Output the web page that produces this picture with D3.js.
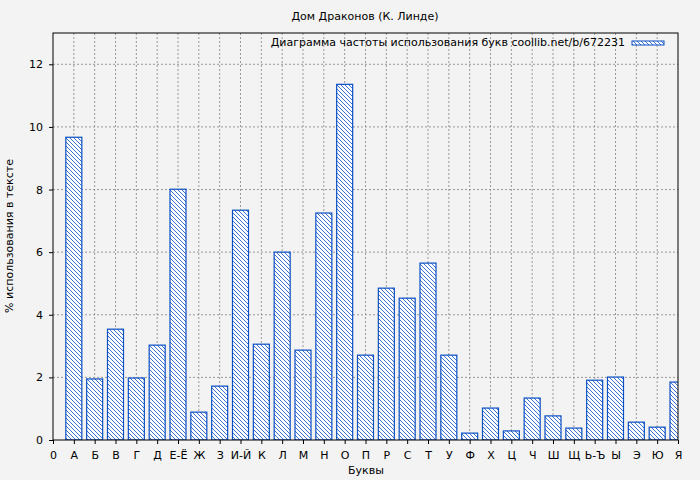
<!DOCTYPE html>
<html><head><meta charset="utf-8">
<script src="https://cdn.jsdelivr.net/npm/d3@7"></script>
<style>body{margin:0;background:#f3f3f3}text{font-family:"DejaVu Sans",sans-serif}</style>
</head><body><svg id="c" width="700" height="480"></svg>
<script>
var letters = ["А","Б","В","Г","Д","Е-Ё","Ж","З","И-Й","К","Л","М","Н","О","П","Р","С","Т","У","Ф","Х","Ц","Ч","Ш","Щ","Ь-Ъ","Ы","Э","Ю","Я"];
var values = [9.67,1.95,3.54,1.98,3.03,8.01,0.89,1.72,7.34,3.06,6.0,2.87,7.25,11.36,2.71,4.85,4.53,5.65,2.71,0.22,1.02,0.29,1.34,0.77,0.38,1.91,2.01,0.57,0.41,1.85];
var yTicks = [0,2,4,6,8,10,12];

var svg = d3.select("#c");
var L = 53, R = 678, T = 33, B = 440, blue = "#0a4fc4";
var x = d3.scaleLinear().domain([0, 30]).range([L, R]);
var y = d3.scaleLinear().domain([0, 13]).range([B, T]);

svg.append("rect").attr("width",700).attr("height",480).attr("fill","#f3f3f3");
var defs = svg.append("defs");
var pat = defs.append("pattern").attr("id","hatch").attr("patternUnits","userSpaceOnUse")
  .attr("width",4).attr("height",4);
pat.append("rect").attr("width",4).attr("height",4).attr("fill","#ffffff");
pat.append("path").attr("d","M-1,-1 L5,5 M-1,3 L1,5 M3,-1 L5,1").attr("stroke",blue).attr("stroke-width",0.8);
defs.append("clipPath").attr("id","clip").append("rect").attr("x",L).attr("y",T).attr("width",R-L).attr("height",B-T);

// grid
svg.append("g").selectAll("line").data(yTicks.slice(1)).enter().append("line")
  .attr("x1",L).attr("x2",R).attr("y1",d=>y(d)).attr("y2",d=>y(d))
  .attr("stroke","#999").attr("stroke-dasharray","2,2");
svg.append("g").selectAll("line").data(d3.range(1,30)).enter().append("line")
  .attr("x1",d=>x(d)).attr("x2",d=>x(d)).attr("y1",T).attr("y2",B)
  .attr("stroke","#999").attr("stroke-dasharray","2,2");

// bars
svg.append("g").attr("clip-path","url(#clip)").selectAll("rect").data(values).enter().append("rect")
  .attr("x",(d,i)=>x(i+1)-8).attr("width",16)
  .attr("y",d=>y(d)).attr("height",d=>B-y(d))
  .attr("fill","url(#hatch)").attr("stroke",blue).attr("stroke-width",1.2);

// frame
svg.append("rect").attr("x",L).attr("y",T).attr("width",R-L).attr("height",B-T)
  .attr("fill","none").attr("stroke","#000");

// axes
var xa = svg.append("g").attr("transform","translate(0,"+B+")")
  .call(d3.axisBottom(x).tickValues(d3.range(0,31)).tickSize(4).tickFormat(d=>d===0?"0":letters[d-1]));
var ya = svg.append("g").attr("transform","translate("+L+",0)")
  .call(d3.axisLeft(y).tickValues(yTicks).tickSize(4));
[xa,ya].forEach(a=>{a.select(".domain").remove();a.selectAll("text").attr("font-size",11).attr("fill","#000").style("font-family","DejaVu Sans");});
xa.selectAll("text").attr("dy","1.1em");
ya.selectAll("text").attr("x",-10);

svg.append("text").attr("x",365).attr("y",20).attr("text-anchor","middle").attr("font-size",11).text("Дом Драконов (К. Линде)");
svg.append("text").attr("x",366).attr("y",474).attr("text-anchor","middle").attr("font-size",11).text("Буквы");
svg.append("text").attr("transform","translate(13,236) rotate(-90)").attr("text-anchor","middle").attr("font-size",11).text("% использования в тексте");
svg.append("text").attr("x",625).attr("y",46).attr("text-anchor","end").attr("font-size",11).text("Диаграмма частоты использования букв coollib.net/b/672231");
svg.append("rect").attr("x",632).attr("y",41).attr("width",32).attr("height",4).attr("fill","url(#hatch)").attr("stroke",blue);
</script></body></html>
